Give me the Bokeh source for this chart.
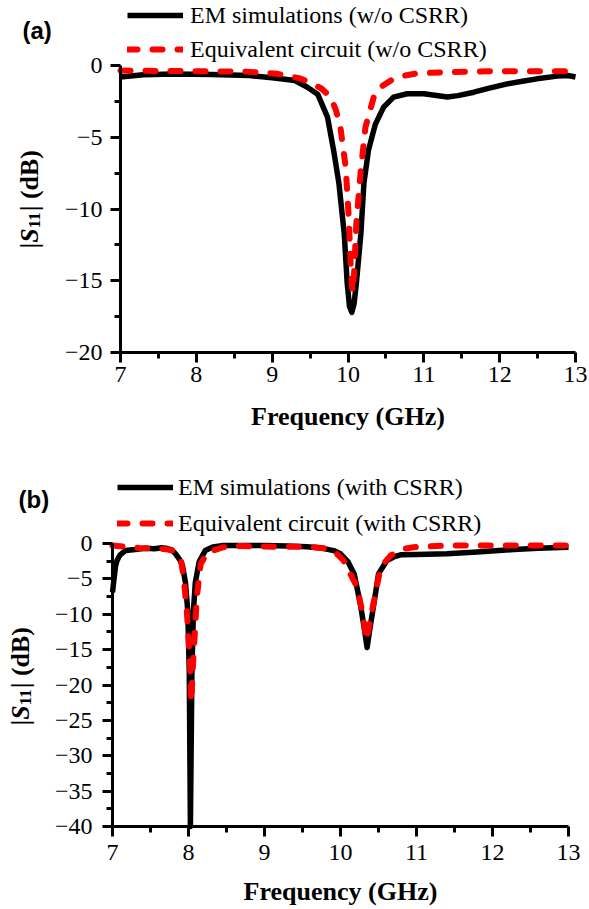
import math
import numpy as np
from bokeh.plotting import figure
from bokeh.models import Legend, LegendItem, Label, FixedTicker, Range1d
from bokeh.layouts import column
from bokeh.embed import file_html
from bokeh.resources import INLINE

# ---------------- data: panel (a) without CSRR ----------------
freq_a_em = [7.0, 7.3, 7.7, 8.2, 8.7, 9.0, 9.3, 9.46, 9.6, 9.73, 9.81, 9.88, 9.95,
             9.99, 10.02, 10.05, 10.08, 10.11, 10.17, 10.21, 10.27, 10.36, 10.47,
             10.6, 10.78, 11.0, 11.31, 11.45, 11.66, 11.85, 12.1, 12.3, 12.49,
             12.76, 12.9, 13.0]
s11_a_em = [-0.8, -0.65, -0.6, -0.62, -0.7, -0.85, -1.05, -1.5, -2.0, -3.6, -5.9,
            -8.2, -11.7, -15.2, -16.8, -17.2, -16.6, -15.2, -11.7, -8.2, -5.9,
            -4.1, -2.9, -2.2, -1.97, -1.97, -2.2, -2.1, -1.86, -1.6, -1.28, -1.1,
            -0.93, -0.74, -0.7, -0.8]

freq_a_eq = [7.0, 7.5, 8.0, 8.63, 9.07, 9.37, 9.5, 9.65, 9.77, 9.84, 9.9, 9.97,
             10.01, 10.04, 10.06, 10.08, 10.11, 10.165, 10.23, 10.34, 10.43, 10.6,
             10.75, 10.91, 11.35, 11.88, 12.4, 12.8, 13.0]
s11_a_eq = [-0.35, -0.38, -0.4, -0.42, -0.58, -0.9, -1.2, -1.6, -2.2, -3.1, -4.3,
            -7.1, -10.6, -14.5, -15.8, -14.5, -11.0, -7.5, -4.3, -2.2, -1.5, -0.93,
            -0.7, -0.55, -0.45, -0.4, -0.4, -0.4, -0.4]

# ---------------- data: panel (b) with CSRR ----------------
freq_b_em = [7.0, 7.02, 7.04, 7.06, 7.1, 7.17, 7.3, 7.43, 7.55, 7.65, 7.7, 7.78,
             7.83, 7.88, 7.92, 7.96, 7.99, 8.01, 8.025, 8.045, 8.065, 8.09, 8.14,
             8.22, 8.32, 8.44, 8.7, 9.0, 9.3, 9.56, 9.75, 9.91, 10.0, 10.1, 10.18,
             10.26, 10.31, 10.35, 10.39, 10.44, 10.5, 10.61, 10.7, 10.79, 11.0,
             11.4, 11.8, 12.28, 12.6, 13.0]
s11_b_em = [-6.9, -5.0, -3.2, -2.4, -1.6, -1.0, -0.85, -0.66, -0.75, -0.6, -0.66,
            -0.9, -1.46, -2.2, -3.1, -5.5, -9.5, -18.0, -40.0, -18.0, -9.5, -5.5,
            -2.6, -1.0, -0.5, -0.3, -0.28, -0.3, -0.35, -0.45, -0.65, -1.0, -1.46,
            -2.6, -4.3, -8.5, -11.8, -14.7, -11.8, -8.5, -4.3, -2.4, -1.9, -1.6,
            -1.55, -1.46, -1.2, -0.85, -0.68, -0.52]

freq_b_eq = [7.0, 7.15, 7.35, 7.57, 7.7, 7.79, 7.86, 7.9, 7.94, 7.98, 8.02, 8.035,
             8.06, 8.09, 8.11, 8.16, 8.25, 8.46, 8.68, 9.1, 9.56, 9.8, 9.91, 10.04,
             10.22, 10.3, 10.34, 10.39, 10.44, 10.53, 10.66, 10.83, 10.96, 11.4,
             12.0, 13.0]
s11_b_eq = [-0.28, -0.45, -0.62, -0.72, -0.8, -1.0, -1.6, -2.2, -5.2, -9.9, -17.0,
            -22.4, -17.0, -11.4, -7.6, -2.9, -1.23, -0.52, -0.35, -0.45, -0.45,
            -0.7, -1.0, -2.4, -6.2, -10.4, -13.7, -11.0, -8.1, -3.3, -1.7, -0.75,
            -0.52, -0.28, -0.28, -0.28]

# ---------------- ticks / labels ----------------
xticks = [7, 8, 9, 10, 11, 12, 13]
xtick_labels = ["7", "8", "9", "10", "11", "12", "13"]
yticks_a = [0, -5, -10, -15, -20]
ytick_labels_a = ["0", "\u22125", "\u221210", "\u221215", "\u221220"]
yticks_b = [0, -5, -10, -15, -20, -25, -30, -35, -40]
ytick_labels_b = ["0", "\u22125", "\u221210", "\u221215", "\u221220", "\u221225",
                  "\u221230", "\u221235", "\u221240"]

legend_a = ["EM simulations (w/o CSRR)", "Equivalent circuit (w/o CSRR)"]
legend_b = ["EM simulations (with CSRR)", "Equivalent circuit (with CSRR)"]
xlabel = "Frequency (GHz)"

SERIF = "Liberation Serif"
SANS = "Liberation Sans"
W = 589
DY = 8  # baseline correction for labels


def make_panel(H, px_x, px_y, ymin, yticks, ylabels, fx, fy, fx_eq, fy_eq,
               leg_labels, leg_pos, leg_standoff, leg_spacing, tag, tag_pos,
               ylab_pos, xlab_pos, x_standoff, y_standoff):
    kx = (px_x[1] - px_x[0]) / 6.0
    ky = (px_y[1] - px_y[0]) / (0 - ymin)
    x0 = 7 - px_x[0] / kx
    x1 = 13 + (W - px_x[1]) / kx
    y1 = 0 + px_y[0] / ky
    y0 = ymin - (H - px_y[1]) / ky
    p = figure(width=W, height=H, output_backend="svg", toolbar_location=None,
               x_range=Range1d(x0, x1), y_range=Range1d(y0, y1),
               min_border=0, min_border_left=0, min_border_right=0,
               min_border_top=0, min_border_bottom=0)
    p.outline_line_color = None
    p.grid.visible = False
    p.background_fill_color = "white"
    p.border_fill_color = "white"

    xminor = list(np.arange(7.5, 13, 1.0))
    yminor = list(np.arange(ymin + 2.5, 0, 5.0))
    p.xaxis.ticker = FixedTicker(ticks=xticks, minor_ticks=xminor)
    p.yaxis.ticker = FixedTicker(ticks=yticks, minor_ticks=yminor)
    p.xaxis.major_label_overrides = {t: l for t, l in zip(xticks, xtick_labels)}
    p.yaxis.major_label_overrides = {t: l for t, l in zip(yticks, ylabels)}
    p.xaxis.bounds = (7, 13)
    p.yaxis.bounds = (ymin, 0)
    p.xaxis.fixed_location = ymin
    p.yaxis.fixed_location = 7
    for ax in (p.xaxis, p.yaxis):
        ax.axis_line_width = 3
        ax.axis_line_color = "black"
        ax.major_tick_line_width = 3
        ax.minor_tick_line_width = 3
        ax.major_tick_line_color = "black"
        ax.minor_tick_line_color = "black"
        ax.major_tick_in = 0
        ax.major_tick_out = 10
        ax.minor_tick_in = 0
        ax.minor_tick_out = 6
        ax.major_label_text_font = SERIF
        ax.major_label_text_font_size = "24px"
        ax.major_label_text_color = "black"
    p.xaxis.major_label_standoff = x_standoff
    p.yaxis.major_label_standoff = y_standoff

    r1 = p.line(fx, fy, line_color="black", line_width=5.5, line_join="round")
    r2 = p.line(fx_eq, fy_eq, line_color="#ff0000", line_width=6,
                line_dash="10 15", line_cap="round", line_join="round")

    legend = Legend(items=[LegendItem(label=leg_labels[0], renderers=[r1]),
                           LegendItem(label=leg_labels[1], renderers=[r2])],
                    location=(leg_pos[0], H - leg_pos[1]), padding=0, margin=0,
                    spacing=leg_spacing, glyph_width=56, glyph_height=28,
                    label_height=28, label_standoff=leg_standoff,
                    label_text_font=SERIF, label_text_font_size="24px",
                    label_text_color="black",
                    background_fill_alpha=0, border_line_alpha=0)
    p.add_layout(legend)

    # x axis title
    p.add_layout(Label(x=xlab_pos[0], y=H - xlab_pos[1] + DY, x_units="screen",
                       y_units="screen", text=xlabel, text_font=SERIF,
                       text_font_style="bold", text_font_size="26px",
                       text_align="center", text_baseline="alphabetic",
                       text_color="black"))
    # panel tag
    p.add_layout(Label(x=tag_pos[0], y=H - tag_pos[1] + DY, x_units="screen",
                       y_units="screen", text=tag, text_font=SANS,
                       text_font_style="bold", text_font_size="24px",
                       text_align="left", text_baseline="alphabetic",
                       text_color="black"))
    # y axis title |S11| (dB) built from pieces, rotated
    bx, by = ylab_pos[0] - DY, H - ylab_pos[1]
    fs = 26.0
    pieces = [("|", "bold", fs, 0.22 * fs, 0),
              ("S", "bold italic", fs, 0.556 * fs, 0),
              ("11", "bold", 17, 17.0, 5),
              ("|", "bold", fs, 0.22 * fs + 0.25 * fs, 0),
              ("(dB)", "bold", fs, 1.889 * fs, 0)]
    yy = by
    for txt, style, size, w, shift in pieces:
        p.add_layout(Label(x=bx + shift, y=yy, x_units="screen", y_units="screen",
                           text=txt, text_font=SERIF, text_font_style=style,
                           text_font_size=f"{size}px", angle=math.pi / 2,
                           text_align="left", text_baseline="alphabetic",
                           text_color="black"))
        yy += w
    return p


pa = make_panel(454, (120, 575), (65, 352), -20, yticks_a, ytick_labels_a,
                freq_a_em, s11_a_em, freq_a_eq, s11_a_eq, legend_a,
                (127, 63), 7, 6, "(a)", (22, 38), (37, 248), (347.5, 424), 4, 8)
pb = make_panel(455, (112, 568), (89, 372), -40, yticks_b, ytick_labels_b,
                freq_b_em, s11_b_em, freq_b_eq, s11_b_eq, legend_b,
                (117, 83), 5, 8, "(b)", (18, 53), (28, 271), (340, 445), 8, 10)

layout = column(pa, pb, spacing=0)
open("out.html", "w").write(file_html(layout, INLINE))
